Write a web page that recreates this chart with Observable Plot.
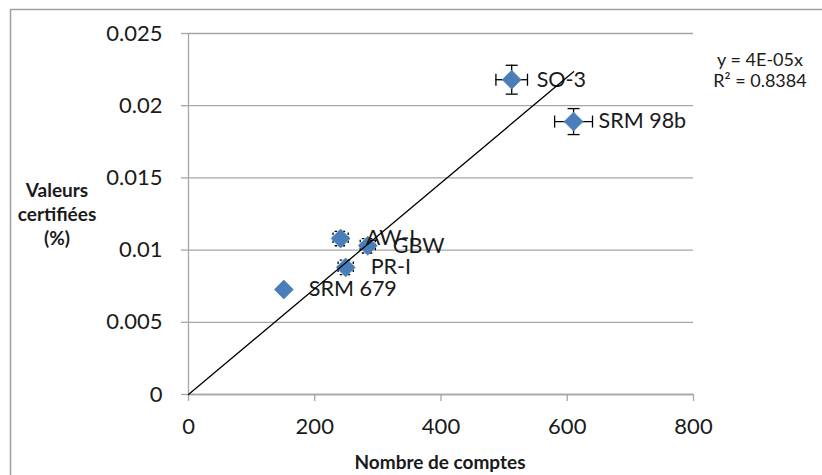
<!DOCTYPE html>
<html>
<head>
<meta charset="utf-8">
<script src="https://cdn.jsdelivr.net/npm/d3@7"></script>
<script src="https://cdn.jsdelivr.net/npm/@observablehq/plot@0.6"></script>
<style>
  html, body { margin: 0; padding: 0; background: #fff; }
  #chart svg { display: block; }
</style>
</head>
<body>
<div id="chart"></div>
<script>
// ---- data ----
const names     = ["SO-3", "SRM 98b", "AW-I", "GBW", "PR-I", "SRM 679"];
const counts    = [512, 610, 241, 284, 249, 151];
const certified = [0.0218, 0.0189, 0.0108, 0.0103, 0.0088, 0.00727];
const countErr  = [25, 30, 12, 12, 12, 0];
const certErr   = [0.001, 0.0009, 0.0005, 0.0005, 0.0005, 0];
const trendX = [0, 610];
const trendY = [0, 0.02235];
const xTicks = [0, 200, 400, 600, 800];
const yTicks = [0, 0.005, 0.01, 0.015, 0.02, 0.025];
const yTickLabels = ["0", "0.005", "0.01", "0.015", "0.02", "0.025"];
const equation = ["y = 4E-05x", "R² = 0.8384"];
const xTitle = "Nombre de comptes";
const yTitle = ["Valeurs", "certifiées", "(%)"];

const data = names.map((n, i) => ({name: n, x: counts[i], y: certified[i], xe: countErr[i], ye: certErr[i], small: certErr[i] > 0 && certErr[i] < 0.0008}));
const withErr = data.filter(d => d.ye > 0);
const bigErr = withErr.filter(d => !d.small);
const smallErr = withErr.filter(d => d.small);
const trend = trendX.map((x, i) => ({x, y: trendY[i]}));

const hCap = {draw(ctx) { ctx.moveTo(-6, 0); ctx.lineTo(6, 0); }};
const vCap = {draw(ctx) { ctx.moveTo(0, -6); ctx.lineTo(0, 6); }};

const GRAY = "#a6a6a6";
const FONT = "Lato, 'Open Sans', sans-serif";

function errMarks(arr, dash) {
  const common = {stroke: "#000", strokeWidth: 1.3, strokeDasharray: dash};
  return [
    Plot.ruleY(arr, {y: "y", x1: d => d.x - d.xe, x2: d => d.x + d.xe, ...common}),
    Plot.ruleX(arr, {x: "x", y1: d => d.y - d.ye, y2: d => d.y + d.ye, ...common}),
    Plot.dot(arr, {x: d => d.x - d.xe, y: "y", symbol: vCap, r: 1, fill: "none", ...common}),
    Plot.dot(arr, {x: d => d.x + d.xe, y: "y", symbol: vCap, r: 1, fill: "none", ...common}),
    Plot.dot(arr, {x: "x", y: d => d.y - d.ye, symbol: hCap, r: 1, fill: "none", ...common}),
    Plot.dot(arr, {x: "x", y: d => d.y + d.ye, symbol: hCap, r: 1, fill: "none", ...common})
  ];
}

const chart = Plot.plot({
  width: 822,
  height: 475,
  marginLeft: 188,
  marginRight: 129,
  marginTop: 33,
  marginBottom: 81,
  style: {fontFamily: FONT, fontSize: "22px", color: "#1a1a1a", background: "#fff"},
  x: {domain: [0, 800]},
  y: {domain: [0, 0.025]},
  marks: [
    Plot.gridY(yTicks, {stroke: GRAY, strokeOpacity: 1, strokeWidth: 1.3}),
    Plot.ruleX([0], {stroke: GRAY, strokeWidth: 1.3}),
    Plot.ruleY([0], {stroke: GRAY, strokeWidth: 1.3}),
    Plot.axisY(yTicks, {tickSize: 7, tickPadding: 19, stroke: GRAY, strokeWidth: 1.3, fill: "#1a1a1a", fontSize: 22, tickFormat: (d, i) => yTickLabels[yTicks.indexOf(d)], label: null}),
    Plot.axisX(xTicks, {tickSize: 7, tickPadding: 17, stroke: GRAY, strokeWidth: 1.3, fill: "#1a1a1a", fontSize: 22, tickFormat: d => String(d), label: null}),
    ...errMarks(bigErr, null),
    ...errMarks(smallErr, "2.5,1.5"),
    Plot.dot(data, {x: "x", y: "y", symbol: "diamond2", r: 8.5, fill: "#4a7ebb", stroke: "#4f81bd", strokeWidth: 0.8}),
    Plot.text(data, {x: "x", y: "y", text: "name", dx: 25, textAnchor: "start", fontSize: 21.5, fill: "#1a1a1a"}),
    Plot.line(trend, {x: "x", y: "y", stroke: "#000", strokeWidth: 1.3})
  ]
});

document.getElementById("chart").appendChild(chart);

const svg = d3.select(chart);
// outer chart border (left and top edges visible)
svg.append("path")
  .attr("d", "M10.5,475 V9.5 H822")
  .attr("fill", "none").attr("stroke", "#a0a0a0").attr("stroke-width", 1.5);

// equation
svg.append("g").attr("font-family", FONT).attr("font-size", 18).attr("fill", "#1a1a1a").attr("text-anchor", "middle")
  .selectAll("text").data(equation).join("text")
  .attr("x", 760).attr("y", (d, i) => 66 + i * 21).text(d => d);

// x title
svg.append("text").attr("x", 440).attr("y", 469).attr("text-anchor", "middle")
  .attr("font-family", FONT).attr("font-size", 19).attr("font-weight", "bold").attr("fill", "#1a1a1a")
  .text(xTitle);

// y title
svg.append("g").attr("font-family", FONT).attr("font-size", 19).attr("font-weight", "bold").attr("fill", "#1a1a1a").attr("text-anchor", "middle")
  .selectAll("text").data(yTitle).join("text")
  .attr("x", 57).attr("y", (d, i) => 197 + i * 24).text(d => d);
</script>
</body>
</html>
